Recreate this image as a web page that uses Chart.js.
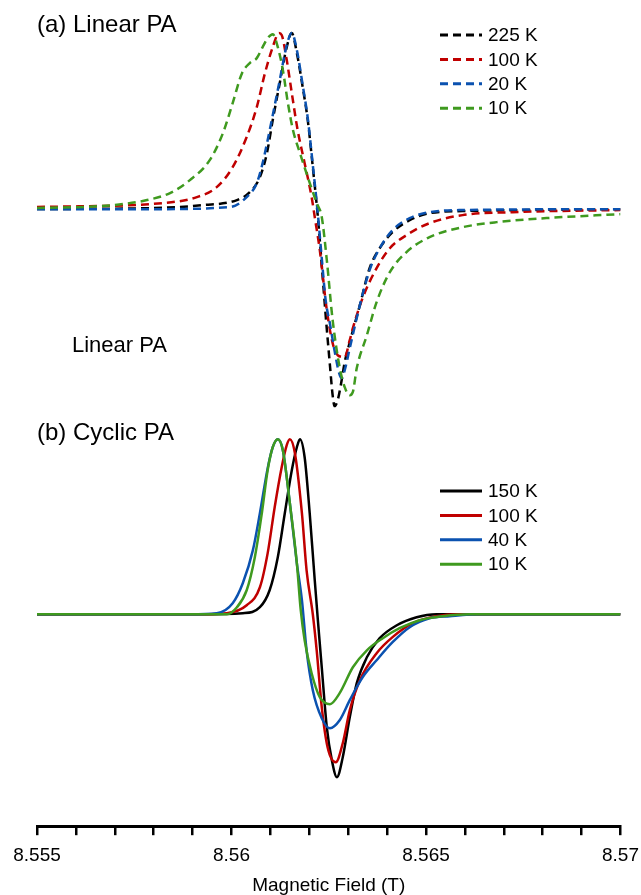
<!DOCTYPE html>
<html>
<head>
<meta charset="utf-8">
<script src="https://cdn.jsdelivr.net/npm/chart.js@4.4.1/dist/chart.umd.min.js"></script>
<style>
  html, body { margin: 0; padding: 0; background: #fff; overflow: hidden; }
  #wrap { position: relative; width: 641px; height: 895px; overflow: hidden; }
</style>
</head>
<body>
<div id="wrap"><canvas id="epr" width="648" height="895"></canvas></div>
<script>
// magnetic field axis (T)
const fieldMin = 8.555;
const fieldMax = 8.57;
const majorTicks = [8.555, 8.56, 8.565, 8.57];

const linearLabels = ["225 K", "100 K", "20 K", "10 K"];
const cyclicLabels = ["150 K", "100 K", "40 K", "10 K"];
const colors = ["#000000", "#c00000", "#0b52b0", "#3f9a1f"];

// (a) Linear PA - derivative signal, peak normalised to 1
const lin225Field = [8.555, 8.5579, 8.55926, 8.56014, 8.56047, 8.56073, 8.56091, 8.56106, 8.56124, 8.56142, 8.56155, 8.56168, 8.56183, 8.56196, 8.56209, 8.56222, 8.56232, 8.56242, 8.56253, 8.5626, 8.56265, 8.56273, 8.56281, 8.56291, 8.56304, 8.5633, 8.56355, 8.56381, 8.56414, 8.56458, 8.56509, 8.56594, 8.56766, 8.57];
const lin225Signal = [-0.005, 0, 0.017, 0.046, 0.091, 0.177, 0.314, 0.503, 0.714, 0.92, 1.0, 0.886, 0.691, 0.503, 0.234, -0.051, -0.326, -0.611, -0.897, -1.069, -1.131, -1.097, -1.011, -0.88, -0.766, -0.554, -0.343, -0.229, -0.137, -0.069, -0.029, -0.017, -0.011, -0.006];

const lin100Field = [8.555, 8.55824, 8.55911, 8.55962, 8.56003, 8.56039, 8.56065, 8.56086, 8.56106, 8.56122, 8.56129, 8.56142, 8.56155, 8.5617, 8.56188, 8.56206, 8.56214, 8.56227, 8.56245, 8.5626, 8.56273, 8.56291, 8.56304, 8.56312, 8.56337, 8.56373, 8.56407, 8.5645, 8.56509, 8.56594, 8.56723, 8.57];
const lin100Signal = [0.006, 0.029, 0.063, 0.12, 0.234, 0.406, 0.577, 0.771, 0.92, 1.0, 0.989, 0.846, 0.657, 0.446, 0.257, 0.063, -0.051, -0.24, -0.583, -0.771, -0.84, -0.851, -0.754, -0.686, -0.514, -0.343, -0.229, -0.154, -0.086, -0.04, -0.023, -0.011];

const lin20Field = [8.555, 8.5579, 8.55996, 8.56039, 8.56065, 8.5608, 8.56093, 8.56106, 8.56124, 8.56142, 8.56155, 8.56168, 8.56183, 8.56196, 8.56209, 8.56222, 8.56232, 8.56242, 8.56253, 8.56265, 8.56276, 8.56283, 8.56291, 8.56304, 8.5633, 8.56355, 8.56381, 8.56414, 8.56458, 8.56509, 8.56594, 8.57];
const lin20Signal = [-0.006, -0.006, 0.006, 0.063, 0.143, 0.257, 0.389, 0.531, 0.731, 0.931, 1.0, 0.903, 0.703, 0.514, 0.246, -0.034, -0.286, -0.526, -0.66, -0.815, -0.937, -0.971, -0.926, -0.8, -0.554, -0.354, -0.229, -0.126, -0.057, -0.023, -0.011, -0.006];

const lin10Field = [8.555, 8.55695, 8.55783, 8.55842, 8.55893, 8.55944, 8.55978, 8.56003, 8.56027, 8.56047, 8.56065, 8.5608, 8.56093, 8.56106, 8.56119, 8.56132, 8.56145, 8.56158, 8.56176, 8.56196, 8.56219, 8.56232, 8.56245, 8.5626, 8.56278, 8.56291, 8.56304, 8.56312, 8.56322, 8.56348, 8.56373, 8.56407, 8.5645, 8.56509, 8.56594, 8.56682, 8.5681, 8.57];
const lin10Signal = [0, 0.017, 0.046, 0.086, 0.16, 0.274, 0.429, 0.6, 0.771, 0.829, 0.857, 0.92, 0.971, 0.994, 0.92, 0.789, 0.6, 0.446, 0.314, 0.177, 0.029, -0.051, -0.297, -0.64, -0.909, -1.023, -1.069, -1.05, -0.914, -0.726, -0.537, -0.366, -0.251, -0.166, -0.109, -0.08, -0.057, -0.034];

// (b) Cyclic PA
const cyc150Field = [8.555, 8.55919, 8.56029, 8.56073, 8.56098, 8.56119, 8.56137, 8.56155, 8.56168, 8.56176, 8.56188, 8.56201, 8.56214, 8.56222, 8.56232, 8.56245, 8.56258, 8.56271, 8.56286, 8.56304, 8.56322, 8.56348, 8.56381, 8.56425, 8.56476, 8.56527, 8.57];
const cyc150Signal = [0, 0, 0.006, 0.04, 0.137, 0.326, 0.577, 0.823, 0.954, 1.0, 0.897, 0.577, 0.194, -0.034, -0.303, -0.646, -0.834, -0.931, -0.817, -0.589, -0.394, -0.246, -0.137, -0.063, -0.017, 0, 0];

const cyc100Field = [8.555, 8.55919, 8.55988, 8.56039, 8.56073, 8.56093, 8.56111, 8.56129, 8.56142, 8.5615, 8.56163, 8.56181, 8.56193, 8.56209, 8.56219, 8.56232, 8.56247, 8.56268, 8.56286, 8.56304, 8.5633, 8.56373, 8.56414, 8.56466, 8.56527, 8.56586, 8.57];
const cyc100Signal = [0, 0, 0.006, 0.051, 0.154, 0.349, 0.611, 0.84, 0.966, 1.0, 0.92, 0.577, 0.251, 0, -0.206, -0.531, -0.76, -0.846, -0.737, -0.549, -0.377, -0.223, -0.131, -0.051, -0.011, 0, 0];

const cyc40Field = [8.555, 8.55893, 8.55962, 8.56003, 8.56029, 8.56055, 8.56073, 8.56093, 8.56106, 8.56119, 8.56132, 8.5615, 8.56168, 8.56181, 8.56193, 8.56209, 8.56232, 8.56253, 8.56278, 8.56304, 8.56337, 8.56373, 8.56414, 8.56458, 8.56509, 8.56561, 8.56638, 8.57];
const cyc40Signal = [0, 0, 0.006, 0.063, 0.177, 0.366, 0.577, 0.834, 0.954, 1.0, 0.937, 0.634, 0.291, 0.08, -0.206, -0.434, -0.594, -0.651, -0.606, -0.491, -0.36, -0.263, -0.16, -0.074, -0.023, -0.011, 0, 0];

const cyc10Field = [8.555, 8.55919, 8.55988, 8.56014, 8.56039, 8.5606, 8.56078, 8.56093, 8.56106, 8.56119, 8.56132, 8.5615, 8.56168, 8.56178, 8.56188, 8.56206, 8.56227, 8.56253, 8.56278, 8.56312, 8.56348, 8.56389, 8.56432, 8.56484, 8.56543, 8.56612, 8.57];
const cyc10Signal = [0, 0, 0, 0.04, 0.137, 0.326, 0.577, 0.823, 0.954, 1.0, 0.937, 0.634, 0.291, 0.023, -0.149, -0.337, -0.474, -0.514, -0.451, -0.303, -0.206, -0.137, -0.08, -0.034, -0.011, 0, 0];

// layout
const panelAShift = 2.32; // panel (a) is drawn above panel (b)
const yMin = -1.211;
const yMax = 3.509;

const linearSeries = [
  [lin225Field, lin225Signal],
  [lin100Field, lin100Signal],
  [lin20Field, lin20Signal],
  [lin10Field, lin10Signal],
];
const cyclicSeries = [
  [cyc150Field, cyc150Signal],
  [cyc100Field, cyc100Signal],
  [cyc40Field, cyc40Signal],
  [cyc10Field, cyc10Signal],
];

const makeSet = (label, field, signal, i, shift, dashed) => ({
  label: label,
  data: field.map((f, j) => ({ x: f, y: signal[j] + shift })),
  borderColor: colors[i],
  borderWidth: 2.5,
  borderDash: dashed ? [8, 5] : [],
  pointRadius: 0,
  fill: false,
  cubicInterpolationMode: "monotone",
  order: 4 - i,
  panel: dashed ? "a" : "b",
});

const datasets = [
  ...linearSeries.map((s, i) => makeSet(linearLabels[i], s[0], s[1], i, panelAShift, true)),
  ...cyclicSeries.map((s, i) => makeSet(cyclicLabels[i], s[0], s[1], i, 0, false)),
];

// minor ticks every 1 mT
const tickValues = [];
for (let k = 0; k <= 15; k++) tickValues.push(+(fieldMin + k * 0.001).toFixed(3));

const fontFamily = "'Liberation Sans', Arial, sans-serif";

const annotations = {
  id: "annotations",
  afterDraw(chart) {
    const ctx = chart.ctx;
    ctx.save();
    ctx.fillStyle = "#000";
    ctx.textBaseline = "middle";
    ctx.textAlign = "left";
    ctx.font = "24px " + fontFamily;
    ctx.fillText("(a) Linear PA", 37, 25);
    ctx.fillText("(b) Cyclic PA", 37, 433);
    ctx.font = "22px " + fontFamily;
    ctx.fillText("Linear PA", 72, 346);

    const drawLegend = (panel, top) => {
      const sets = chart.data.datasets.filter((d) => d.panel === panel);
      ctx.font = "19px " + fontFamily;
      sets.forEach((d, i) => {
        const y = top + i * 24.4;
        ctx.beginPath();
        ctx.setLineDash(d.borderDash);
        ctx.strokeStyle = d.borderColor;
        ctx.lineWidth = 3;
        ctx.moveTo(440, y);
        ctx.lineTo(482, y);
        ctx.stroke();
        ctx.setLineDash([]);
        ctx.fillText(d.label, 488, y + 1);
      });
    };
    drawLegend("a", 35);
    drawLegend("b", 491);
    ctx.restore();
  },
};

new Chart(document.getElementById("epr"), {
  type: "line",
  data: { datasets: datasets },
  options: {
    responsive: false,
    animation: false,
    devicePixelRatio: 1,
    layout: { padding: { left: 37, right: 20, top: 0, bottom: 0 } },
    plugins: { legend: { display: false }, tooltip: { enabled: false } },
    scales: {
      x: {
        type: "linear",
        min: fieldMin,
        max: fieldMax,
        afterBuildTicks: (scale) => {
          scale.ticks = tickValues.map((v) => ({ value: v }));
        },
        ticks: {
          autoSkip: false,
          maxRotation: 0,
          padding: 9,
          color: "#000",
          font: { size: 19, family: fontFamily },
          callback: (value) => {
            const v = +(+value).toFixed(3);
            return majorTicks.includes(v) ? String(v) : "";
          },
        },
        grid: {
          drawOnChartArea: false,
          drawTicks: true,
          tickLength: 9,
          color: "#000",
          lineWidth: 2.5,
        },
        border: { display: true, color: "#000", width: 3 },
        title: {
          display: true,
          text: "Magnetic Field (T)",
          color: "#000",
          font: { size: 19, family: fontFamily, lineHeight: 1.0 },
          padding: { top: 0, bottom: 0 },
        },
      },
      y: {
        display: false,
        min: yMin,
        max: yMax,
      },
    },
  },
  plugins: [annotations],
});
</script>
</body>
</html>
